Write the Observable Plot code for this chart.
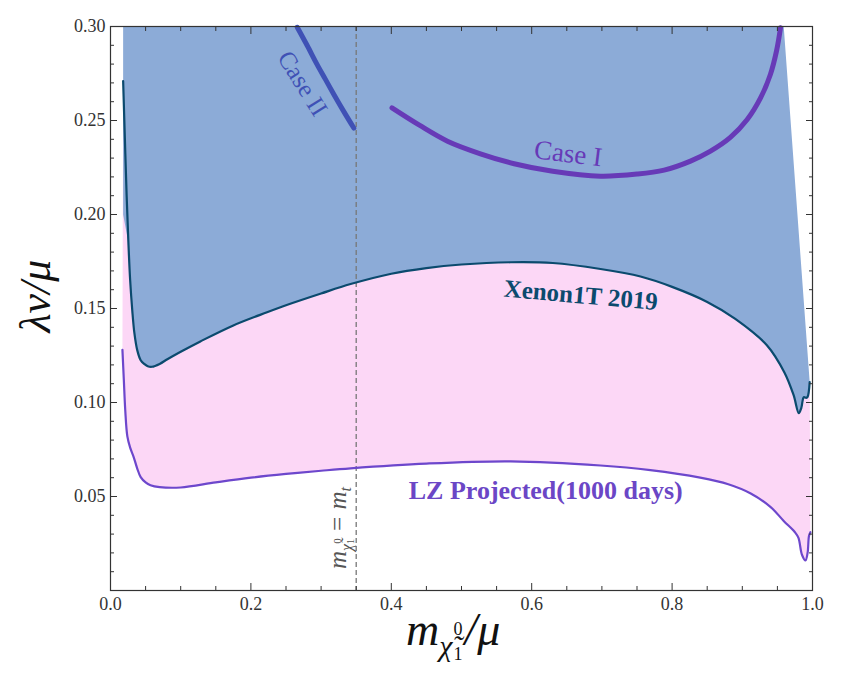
<!DOCTYPE html>
<html><head><meta charset="utf-8">
<script src="https://cdn.jsdelivr.net/npm/d3@7"></script>
<script src="https://cdn.jsdelivr.net/npm/@observablehq/plot@0.6"></script>
<style>body{margin:0;background:#fff} svg{display:block}</style>
</head><body><div id="chart"></div>
<script>
// Xenon1T 2019 exclusion boundary
const xenonX = [0.018, 0.0205, 0.023, 0.0255, 0.028, 0.031, 0.034, 0.038, 0.043, 0.048, 0.053, 0.059, 0.070, 0.081, 0.100, 0.128, 0.175, 0.223, 0.252, 0.300, 0.342, 0.400, 0.450, 0.500, 0.570, 0.630, 0.698, 0.755, 0.800, 0.850, 0.890, 0.935, 0.960, 0.973, 0.9805, 0.984, 0.9876, 0.991, 0.993, 0.996];
const xenonY = [0.271, 0.240, 0.210, 0.185, 0.165, 0.149, 0.137, 0.128, 0.1225, 0.1205, 0.1193, 0.119, 0.1205, 0.123, 0.127, 0.1325, 0.141, 0.148, 0.152, 0.158, 0.163, 0.1685, 0.1715, 0.1734, 0.1746, 0.1742, 0.171, 0.167, 0.1615, 0.1535, 0.1445, 0.1305, 0.116, 0.104, 0.0943, 0.097, 0.1028, 0.1025, 0.103, 0.1108];
// LZ projected (1000 days)
const lzX = [0.017, 0.019, 0.021, 0.024, 0.028, 0.033, 0.038, 0.043, 0.050, 0.057, 0.070, 0.100, 0.150, 0.200, 0.250, 0.300, 0.342, 0.450, 0.570, 0.698, 0.769, 0.840, 0.880, 0.912, 0.940, 0.959, 0.975, 0.980, 0.985, 0.990, 0.993, 0.995, 0.997];
const lzY = [0.128, 0.112, 0.096, 0.082, 0.076, 0.071, 0.065, 0.0603, 0.0575, 0.056, 0.055, 0.0548, 0.0575, 0.0600, 0.0620, 0.0637, 0.0650, 0.0675, 0.0687, 0.0665, 0.0640, 0.0600, 0.0565, 0.0516, 0.0445, 0.0370, 0.031, 0.028, 0.019, 0.016, 0.020, 0.029, 0.031];
// Case I
const case1X = [0.401, 0.440, 0.480, 0.527, 0.575, 0.630, 0.698, 0.750, 0.7886, 0.8262, 0.8547, 0.883, 0.907, 0.926, 0.940, 0.9487, 0.9544];
const case1Y = [0.2567, 0.2475, 0.239, 0.2323, 0.227, 0.223, 0.2204, 0.2215, 0.2236, 0.2284, 0.2337, 0.241, 0.2505, 0.262, 0.2745, 0.2869, 0.2993];
// Case II
const case2X = [0.266, 0.280, 0.294, 0.306, 0.318, 0.332, 0.3466];
const case2Y = [0.2996, 0.290, 0.280, 0.272, 0.264, 0.255, 0.246];
// excluded region bounds
const regionLeftX = 0.018;
const regionTopY = 0.30;
const regionKneeY = 0.20;
const regionRightTopX = 0.959;
// m_chi = m_t
const mtX = 0.35;
// ticks
const xMajor = [0.0, 0.2, 0.4, 0.6, 0.8, 1.0];
const yMajor = [0.05, 0.10, 0.15, 0.20, 0.25, 0.30];
const xMinor = d3.range(1, 20).map(i => i * 0.05).filter(v => Math.abs(v / 0.2 - Math.round(v / 0.2)) > 1e-6);
const yMinor = d3.range(1, 30).map(i => i * 0.01).filter(v => Math.abs(v / 0.05 - Math.round(v / 0.05)) > 1e-6);
// annotation labels
const labelText = ["Case I", "Xenon1T 2019", "LZ Projected(1000 days)", "Case II"];
const labelX = [0.652, 0.670, 0.620, 0.2735];
const labelY = [0.2324, 0.157, 0.0532, 0.2697];
const labelRot = [7, 5, 0, 58];

const pts = (xs, ys) => xs.map((x, i) => ({x, y: ys[i]}));
const xenon = pts(xenonX, xenonY);
const lz = pts(lzX, lzY);
const case1 = pts(case1X, case1Y);
const case2 = pts(case2X, case2Y);
const pinkPoly = lz.concat(xenon.slice().reverse());
const bluePoly = [{x: regionLeftX, y: regionTopY}, {x: regionLeftX, y: regionKneeY}]
  .concat(xenon.filter(d => d.y <= regionKneeY))
  .concat([{x: regionRightTopX, y: regionTopY}]);

const ff = "'Liberation Serif', 'DejaVu Serif', serif";
const lab = (i, color, weight, size) => Plot.text([i], {
  x: i => labelX[i], y: i => labelY[i], text: i => labelText[i],
  rotate: labelRot[i], fill: color, fontWeight: weight, fontSize: size, fontFamily: ff
});
const none = () => "";
const cr = "catmull-rom";

const plot = Plot.plot({
  width: 847, height: 678,
  marginLeft: 110, marginRight: 35, marginTop: 26, marginBottom: 88,
  x: {domain: [0, 1]},
  y: {domain: [0, 0.30]},
  style: {fontFamily: ff, fontSize: "18px", background: "#fff", color: "#333"},
  marks: [
    Plot.line(pinkPoly, {x: "x", y: "y", fill: "#fcd7f6", stroke: "none"}),
    Plot.line(bluePoly, {x: "x", y: "y", fill: "#8cabd7", stroke: "none"}),
    Plot.ruleX([mtX], {stroke: "#777", strokeWidth: 1.3, strokeDasharray: "5,3"}),
    Plot.line(xenon, {x: "x", y: "y", stroke: "#0b4a6e", strokeWidth: 2.2, curve: cr}),
    Plot.line(lz, {x: "x", y: "y", stroke: "#6d47cc", strokeWidth: 2.2, curve: cr}),
    Plot.line(case1, {x: "x", y: "y", stroke: "#673ab7", strokeWidth: 5, curve: cr}),
    Plot.line(case2, {x: "x", y: "y", stroke: "#3f51b5", strokeWidth: 5, curve: cr}),
    lab(0, "#673ab7", "normal", 27),
    lab(1, "#0b4a6e", "bold", 25),
    lab(2, "#6b46c6", "bold", 26),
    lab(3, "#3f51b5", "normal", 25),
    Plot.frame({stroke: "#333", strokeWidth: 1.2}),
    Plot.axisX({ticks: xMajor, tickSize: -7, tickPadding: 14, tickFormat: d3.format(".1f"), label: null}),
    Plot.axisX({ticks: xMinor, tickSize: -4, tickFormat: none, label: null}),
    Plot.axisX({anchor: "top", ticks: xMajor, tickSize: -7, tickFormat: none, label: null}),
    Plot.axisX({anchor: "top", ticks: xMinor, tickSize: -4, tickFormat: none, label: null}),
    Plot.axisY({ticks: yMajor, tickSize: -7, tickPadding: 12, tickFormat: d3.format(".2f"), label: null}),
    Plot.axisY({ticks: yMinor, tickSize: -4, tickFormat: none, label: null}),
    Plot.axisY({anchor: "right", ticks: yMajor, tickSize: -7, tickFormat: none, label: null}),
    Plot.axisY({anchor: "right", ticks: yMinor, tickSize: -4, tickFormat: none, label: null})
  ]
});
document.getElementById("chart").appendChild(plot);

const sx = plot.scale("x"), sy = plot.scale("y");
const svg = d3.select(plot);

// y axis label
svg.append("text")
  .attr("transform", "translate(50,296) rotate(-90)")
  .attr("text-anchor", "middle")
  .attr("font-family", ff).attr("font-style", "italic").attr("font-size", 44).attr("fill", "#111")
  .text("λv/μ");

// x axis label
const xl = svg.append("text")
  .attr("x", 406).attr("y", 645)
  .attr("text-anchor", "start")
  .attr("font-family", ff).attr("font-style", "italic").attr("font-size", 46).attr("fill", "#111");
xl.append("tspan").text("m");
xl.append("tspan").attr("font-size", 30).attr("dy", 11).text("χ\u0303");
xl.append("tspan").attr("font-size", 18).attr("font-style", "normal").attr("dy", -21).attr("dx", 1).text("0");
xl.append("tspan").attr("font-size", 18).attr("font-style", "normal").attr("dy", 25).attr("dx", -9).text("1");
xl.append("tspan").attr("dy", -15).attr("dx", 2).text("/μ");

// vertical line label
const ml = svg.append("text")
  .attr("transform", `translate(${sx.apply(mtX) - 10},${sy.apply(0.033)}) rotate(-90)`)
  .attr("text-anchor", "middle")
  .attr("font-family", ff).attr("font-style", "italic").attr("font-size", 25).attr("fill", "#555");
ml.append("tspan").text("m");
ml.append("tspan").attr("font-size", 16).attr("dy", 6).text("χ\u0303");
ml.append("tspan").attr("font-size", 11).attr("font-style", "normal").attr("dy", -11).text("0");
ml.append("tspan").attr("font-size", 11).attr("font-style", "normal").attr("dy", 13).attr("dx", -6).text("1");
ml.append("tspan").attr("dy", -8).text(" = m");
ml.append("tspan").attr("font-size", 16).attr("dy", 5).text("t");
</script>
</body></html>
